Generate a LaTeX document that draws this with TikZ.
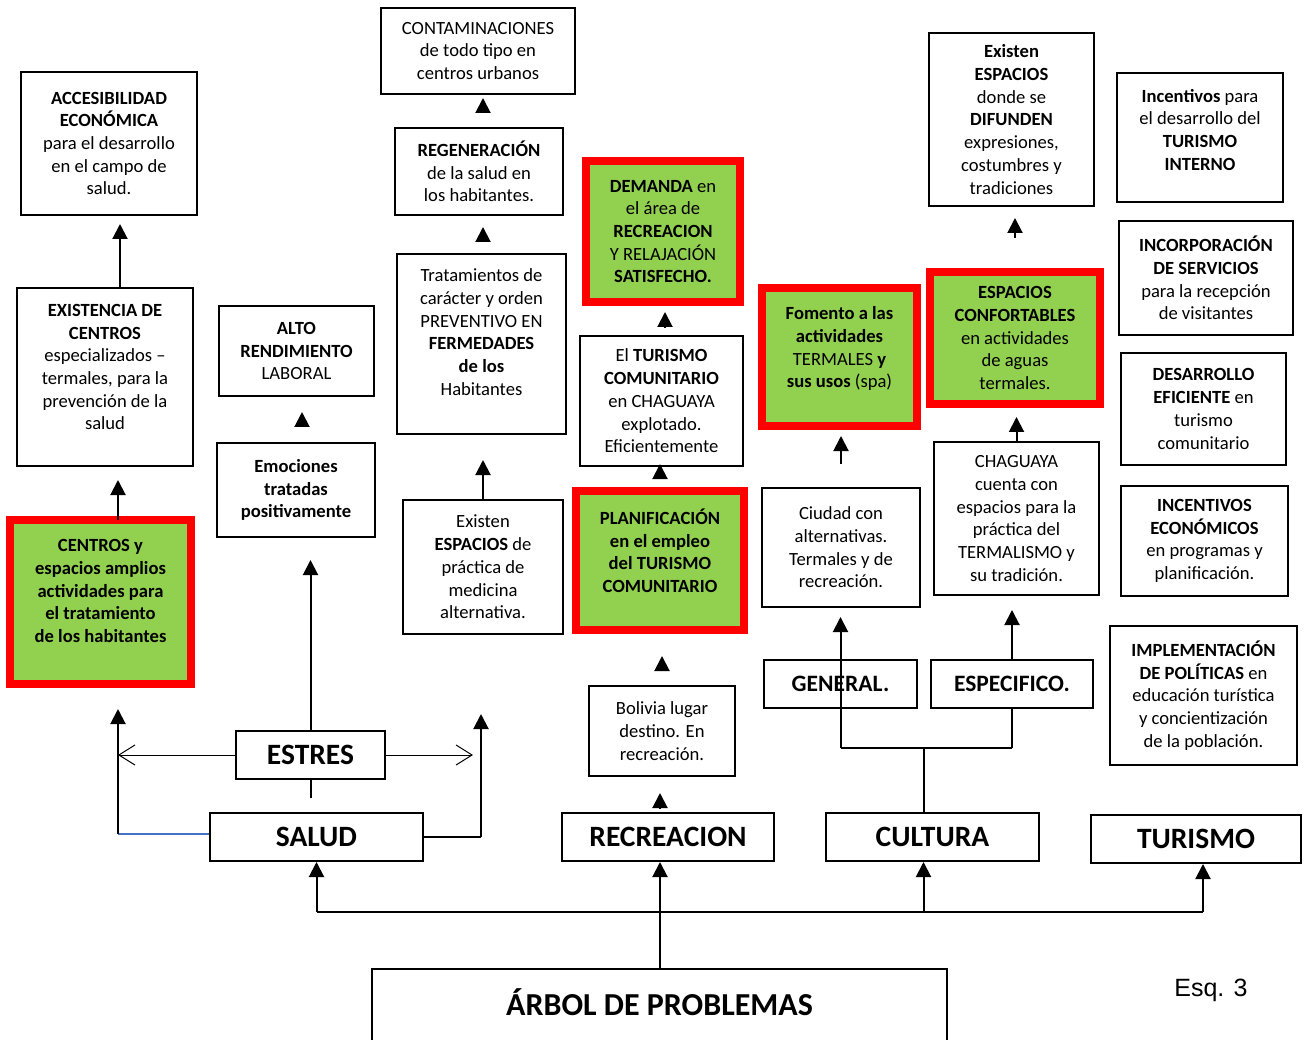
\documentclass[tikz,border=0pt]{standalone}
\usepackage{fontspec}
\setmainfont{Carlito}
\newfontfamily\arialfont{Liberation Sans}
\usetikzlibrary{arrows.meta}

\definecolor{leaf}{HTML}{92D050}
\definecolor{linkblue}{HTML}{4472C4}
\newcommand\bodyfont{\fontsize{18.6}{22.7}\selectfont}

\begin{document}
\begin{tikzpicture}[x=1pt, y=-1pt,
    box/.style={draw, line width=2pt, align=center, inner sep=2pt, font=\bodyfont},
    hot/.style={box, draw=red, line width=8pt, fill=leaf},
    root/.style={draw, line width=2pt, minimum height=48pt, font=\bfseries\fontsize{29.5}{31}\selectfont},
    branch/.style={draw, line width=2pt, minimum height=48pt, font=\bfseries\fontsize{23.5}{26}\selectfont},
    arr/.style={-{Triangle[width=15pt,length=15pt]}, line width=2pt},
    barb/.style={-{Straight Barb[length=16pt,width=20pt]}, line width=1pt},
    wire/.style={line width=2pt}
]
\useasboundingbox (0,0) rectangle (1304,1040);

% Salud column
\node[box, minimum width=176pt, minimum height=143pt] (acc) at (109,143.5)
  {\textbf{ACCESIBILIDAD}\\\textbf{ECONÓMICA}\\para el desarrollo\\en el campo de\\salud.};
\node[box, minimum width=176pt, minimum height=178pt] (exist) at (105,377)
  {\textbf{EXISTENCIA DE}\\\textbf{CENTROS}\\especializados --\\termales, para la\\prevención de la\\salud\\[-3pt]};
\node[hot, minimum width=181pt, minimum height=164pt] (centros) at (100.5,602)
  {\textbf{CENTROS y}\\\textbf{espacios amplios}\\\textbf{actividades para}\\\textbf{el tratamiento}\\\textbf{de los habitantes}\\[-1pt]};
\node[box, minimum width=155pt, minimum height=90pt] (alto) at (296.5,351)
  {\textbf{ALTO}\\\textbf{RENDIMIENTO}\\LABORAL};
\node[box, minimum width=158pt, minimum height=94pt] (emoc) at (296,490)
  {\textbf{Emociones}\\\textbf{tratadas}\\\textbf{positivamente}};
\node[box, minimum width=194pt, minimum height=86pt] (contam) at (478,51)
  {CONTAMINACIONES\\de todo tipo en\\centros urbanos};
\node[box, minimum width=168pt, minimum height=87pt] (regen) at (479,171.5)
  {\textbf{REGENERACIÓN}\\de la salud en\\los habitantes.};
\node[box, minimum width=169pt, minimum height=180pt] (trat) at (481.5,344)
  {Tratamientos de\\carácter y orden\\PREVENTIVO EN\\\textbf{FERMEDADES}\\\textbf{de los}\\Habitantes\\[1pt]};
\node[box, minimum width=160pt, minimum height=134pt] (espmed) at (483,567)
  {Existen\\\textbf{ESPACIOS} de\\práctica de\\medicina\\alternativa.};

% Recreacion column
\node[hot, minimum width=154pt, minimum height=141pt] (demanda) at (663,231.5)
  {\textbf{DEMANDA} en\\el área de\\\textbf{RECREACION}\\Y RELAJACIÓN\\\textbf{SATISFECHO.}};
\node[box, minimum width=163pt, minimum height=130pt] (turcom) at (661.5,401)
  {El \textbf{TURISMO}\\\textbf{COMUNITARIO}\\en CHAGUAYA\\explotado.\\Eficientemente};
\node[hot, minimum width=168pt, minimum height=139pt] (planif) at (660,560.5)
  {\textbf{PLANIFICACIÓN}\\\textbf{en el empleo}\\\textbf{del TURISMO}\\\textbf{COMUNITARIO}\\[-3pt]};
\node[box, minimum width=146pt, minimum height=90pt] (bolivia) at (662,731)
  {Bolivia lugar\\destino. En\\recreación.};

% Cultura column
\node[hot, minimum width=155pt, minimum height=138pt] (fomento) at (839.5,357)
  {\textbf{Fomento a las}\\\textbf{actividades}\\TERMALES \textbf{y}\\\textbf{sus usos} (spa)\\[-3pt]};
\node[box, minimum width=158pt, minimum height=119pt] (ciudad) at (841,547.5)
  {Ciudad con\\alternativas.\\Termales y de\\recreación.};
\node[hot, minimum width=170pt, minimum height=132pt] (confort) at (1015,338)
  {\textbf{ESPACIOS}\\\textbf{CONFORTABLES}\\en actividades\\de aguas\\termales.};
\node[box, minimum width=165pt, minimum height=153pt] (chaguaya) at (1016.5,518.5)
  {CHAGUAYA\\cuenta con\\espacios para la\\práctica del\\TERMALISMO y\\su tradición.};
\node[box, minimum width=165pt, minimum height=173pt] (difunden) at (1011.5,119.5)
  {\textbf{Existen}\\\textbf{ESPACIOS}\\donde se\\\textbf{DIFUNDEN}\\expresiones,\\costumbres y\\tradiciones};
\node[branch, minimum width=153pt] (general) at (840.5,684) {GENERAL.};
\node[branch, minimum width=162pt] (especif) at (1012,684) {ESPECIFICO.};

% Turismo column
\node[box, minimum width=166pt, minimum height=129pt] (incent) at (1200,137.5)
  {\textbf{Incentivos} para\\el desarrollo del\\\textbf{TURISMO}\\\textbf{INTERNO}\\[-7pt]};
\node[box, minimum width=174pt, minimum height=114pt] (incorp) at (1206,278)
  {\textbf{INCORPORACIÓN}\\\textbf{DE SERVICIOS}\\para la recepción\\de visitantes};
\node[box, minimum width=165pt, minimum height=112pt] (desarr) at (1203.5,409)
  {\textbf{DESARROLLO}\\\textbf{EFICIENTE} en\\turismo\\comunitario};
\node[box, minimum width=167pt, minimum height=110pt] (incecon) at (1204.5,541)
  {\textbf{INCENTIVOS}\\\textbf{ECONÓMICOS}\\en programas y\\planificación.};
\node[box, minimum width=187pt, minimum height=139pt] (implem) at (1203.5,695.5)
  {\textbf{IMPLEMENTACIÓN}\\\textbf{DE POLÍTICAS} en\\educación turística\\y concientización\\de la población.};

% Roots
\node[root, minimum width=149pt] (estres) at (310.5,755) {ESTRES};
\node[root, minimum width=213pt] (salud) at (316.5,837) {SALUD};
\node[root, minimum width=212pt] (recre) at (668,837) {RECREACION};
\node[root, minimum width=213pt] (cultura) at (932.5,837) {CULTURA};
\node[root, minimum width=210pt] (turismo) at (1196,839) {TURISMO};
\node[draw, line width=2pt, minimum width=575pt, minimum height=100pt, align=center,
      font=\bfseries\fontsize{32}{34}\selectfont] (arbol) at (659.5,1019) {ÁRBOL DE PROBLEMAS\\[0pt]};
\node[font=\arialfont\fontsize{25}{28}\selectfont] (esq) at (1211,990) {Esq. 3};

\coordinate (bus) at (660,912);
\coordinate (lft) at (118,834);
\coordinate (rgt) at (481,837);
\coordinate (fork) at (924,748);

% Trunk
\draw[wire] (arbol.north -| bus) -- (bus);
\draw[line width=1.5pt] (salud.south |- bus) -- ([xshift=7pt]turismo.south |- bus);
\draw[arr] (salud.south |- bus) -- (salud.south);
\draw[arr] (bus) -- (bus |- recre.south);
\draw[arr] ([xshift=-9pt]cultura.south |- bus) -- ([xshift=-9pt]cultura.south);
\draw[arr] ([xshift=7pt]turismo.south |- bus) -- ([xshift=7pt]turismo.south);

% Salud branches
\draw[line width=1.2pt, linkblue] (lft) -- (lft -| salud.west);
\draw[arr, shorten >=21pt] (lft) -- (lft |- centros.south);
\draw[barb] (estres.west) -- (estres.west -| lft);
\draw[barb, shorten >=8pt] (estres.east) -- (estres.east -| rgt);
\draw[wire] (salud.east |- rgt) -- (rgt);
\draw[arr, shorten >=79pt] (rgt) -- (rgt |- espmed.south);
\draw[arr, shorten >=22pt] (estres.north) -- (estres.north |- emoc.south);
\draw[wire, shorten >=14pt] (estres.south) -- (estres.south |- salud.north);
\draw[arr, shorten <=-4pt, shorten >=13pt] ([xshift=17.5pt]centros.north) -- ([xshift=17.5pt]centros.north |- exist.south);
\draw[arr, shorten >=8pt] ([xshift=15pt]exist.north) -- ([xshift=15pt]exist.north |- acc.south);
\draw[arr, shorten <=15pt, shorten >=15pt] ([xshift=6pt]emoc.north) -- ([xshift=6pt]emoc.north |- alto.south);
\draw[arr, shorten >=25pt] (espmed.north) -- (espmed.north |- trat.south);
\draw[arr, shorten <=12pt, shorten >=11pt] ([xshift=1.5pt]trat.north) -- ([xshift=1.5pt]trat.north |- regen.south);
\draw[arr, shorten <=14pt, shorten >=3pt] ([xshift=4pt]regen.north) -- ([xshift=4pt]regen.north |- contam.south);

% Recreacion branches
\draw[arr, shorten <=4pt, shorten >=16pt] (bus |- recre.north) -- (bus |- bolivia.south);
\draw[arr, shorten <=16pt, shorten >=22pt] (bolivia.north) -- (bolivia.north |- planif.south);
\draw[arr, shorten <=13pt, shorten >=-3pt] (planif.north) -- (planif.north |- turcom.south);
\draw[arr, shorten <=7pt, shorten >=6pt] ([xshift=3.5pt]turcom.north) -- ([xshift=3.5pt]turcom.north |- demanda.south);

% Cultura branches
\draw[wire] (fork |- cultura.north) -- (fork);
\draw[wire] (general.south |- fork) -- (especif.south |- fork);
\draw[arr, shorten >=9pt] (general.south |- fork) -- (general.south |- ciudad.south);
\draw[wire] (especif.south |- fork) -- (especif.south);
\draw[arr, shorten >=14pt] (especif.north) -- (especif.north |- chaguaya.south);
\draw[arr, shorten <=23pt, shorten >=6pt] (ciudad.north) -- (ciudad.north |- fomento.south);
\draw[arr, shorten >=9pt] (chaguaya.north) -- (chaguaya.north |- confort.south);
\draw[arr, shorten <=30pt, shorten >=11pt] (confort.north) -- (confort.north |- difunden.south);

\end{tikzpicture}
\end{document}
